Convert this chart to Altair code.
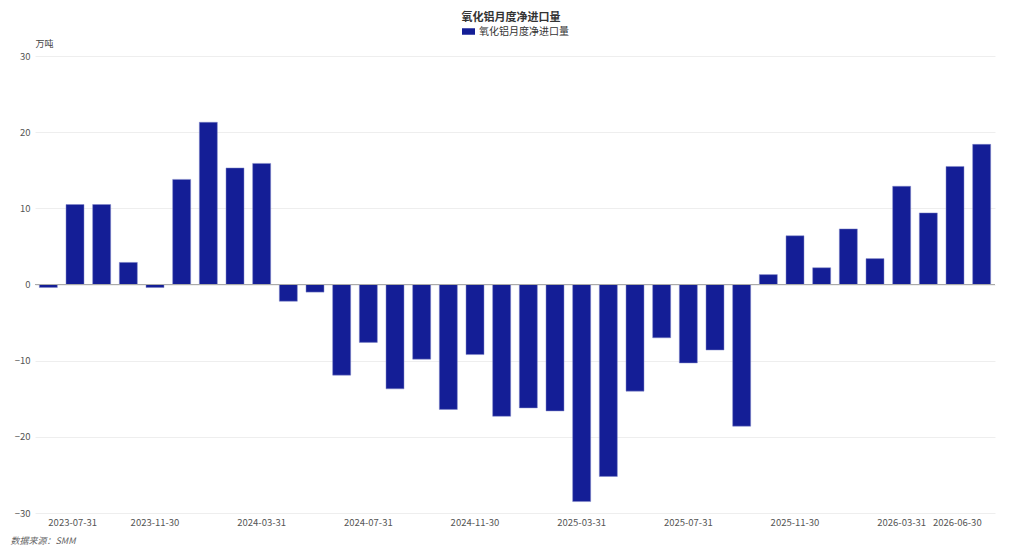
import altair as alt
import pandas as pd

months = [
    "2023-07-31", "2023-08-31", "2023-09-30", "2023-10-31", "2023-11-30", "2023-12-31",
    "2024-01-31", "2024-02-29", "2024-03-31", "2024-04-30", "2024-05-31", "2024-06-30",
    "2024-07-31", "2024-08-31", "2024-09-30", "2024-10-31", "2024-11-30", "2024-12-31",
    "2025-01-31", "2025-02-28", "2025-03-31", "2025-04-30", "2025-05-31", "2025-06-30",
    "2025-07-31", "2025-08-31", "2025-09-30", "2025-10-31", "2025-11-30", "2025-12-31",
    "2026-01-31", "2026-02-28", "2026-03-31", "2026-04-30", "2026-05-31", "2026-06-30",
]
net_imports = [
    -0.4, 10.5, 10.5, 2.9, -0.4, 13.8,
    21.3, 15.3, 15.9, -2.2, -1.0, -11.9,
    -7.6, -13.7, -9.8, -16.4, -9.2, -17.3,
    -16.2, -16.6, -28.5, -25.2, -14.0, -7.0,
    -10.3, -8.6, -18.6, 1.3, 6.4, 2.2,
    7.3, 3.4, 12.9, 9.4, 15.5, 18.4,
]
tick_labels = ["2023-07-31", "2023-11-30", "2024-03-31", "2024-07-31", "2024-11-30",
               "2025-03-31", "2025-07-31", "2025-11-30", "2026-03-31", "2026-06-30"]
y_ticks = [-30, -20, -10, 0, 10, 20, 30]
series_name = "氧化铝月度净进口量"

df = pd.DataFrame({"month": months, "value": net_imports, "series": series_name})
zero_df = pd.DataFrame({"y": [0]})

FONT = "Noto Sans CJK SC"

bars = alt.Chart(df).mark_bar(stroke="#8088c8", strokeWidth=0.5).encode(
    x=alt.X(
        "month:N",
        sort=months,
        scale=alt.Scale(paddingInner=0.325, paddingOuter=0.1625),
        axis=alt.Axis(
            values=tick_labels, labelAngle=0, labelFlush=25, domain=False, ticks=False,
            grid=False, labelPadding=4, labelFontSize=9.5, labelColor="#555555",
            title="数据来源：SMM", titleX=-25, titleY=27, titleAlign="left",
            titleBaseline="middle", titleFontStyle="italic", titleFontWeight="normal",
            titleFontSize=9, titleColor="#666666",
        ),
    ),
    y=alt.Y(
        "value:Q",
        scale=alt.Scale(domain=[-30, 30], nice=False),
        axis=alt.Axis(
            values=y_ticks, title="万吨", titleAngle=0, titleX=0, titleY=-13,
            titleAlign="left", titleBaseline="middle", titleFontWeight="normal",
            titleFontSize=9, titleColor="#444444", domain=False, ticks=False,
            gridColor="#eeeeee", labelPadding=5, labelFontSize=9.5, labelColor="#555555",
        ),
    ),
    color=alt.Color(
        "series:N",
        scale=alt.Scale(range=["#141e96"]),
        legend=alt.Legend(
            orient="none", legendX=427, legendY=-31, title=None, padding=0,
            symbolType="M-1,-0.5L1,-0.5L1,0.5L-1,0.5Z", symbolSize=169,
            symbolStrokeWidth=0, labelFontSize=10, labelColor="#333333", labelOffset=4,
        ),
    ),
)

zero = alt.Chart(zero_df).mark_rule(color="#aaaaaa", strokeWidth=1).encode(y="y:Q")

chart = alt.layer(bars, zero).properties(
    width=960,
    height=457,
    autosize="none",
    padding={"left": 27, "top": 48, "right": 20, "bottom": 36},
    title=alt.TitleParams(
        "氧化铝月度净进口量", anchor="middle", fontSize=11, fontWeight="bold",
        color="#333333", offset=2, dx=-4,
    ),
).configure(font=FONT).configure_view(stroke=None)

chart.save("out.html", embed_options={"renderer": "svg", "actions": False})
